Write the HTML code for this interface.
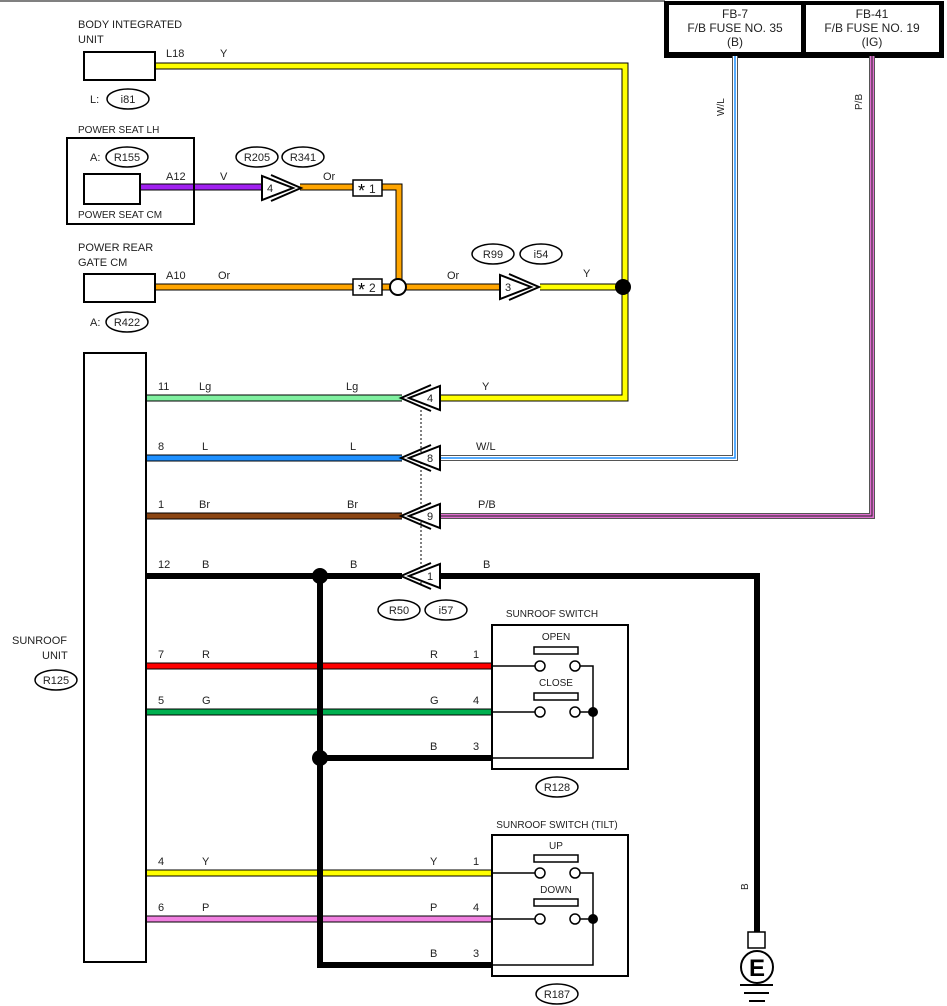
<!DOCTYPE html>
<html><head><meta charset="utf-8"><style>
html,body{margin:0;padding:0;background:#fff;}
svg{display:block;}
text{font-family:"Liberation Sans",Arial,sans-serif;font-size:11px;fill:#222;}
</style></head><body>
<svg width="947" height="1006" viewBox="0 0 947 1006" xmlns="http://www.w3.org/2000/svg">
<defs>
<g id="cR"><polygon points="0,-12 0,12 31,0" fill="#fff" stroke="#000" stroke-width="2"/><polyline points="9,-13 39,0 9,13" fill="none" stroke="#000" stroke-width="2"/></g>
<g id="cL"><polygon points="0,-12 0,12 -31,0" fill="#fff" stroke="#000" stroke-width="2"/><polyline points="-9,-13 -39,0 -9,13" fill="none" stroke="#000" stroke-width="2"/></g>
</defs>
<line x1="0" y1="1" x2="665" y2="1" stroke="#000" stroke-width="1"/>
<!-- fuse boxes -->
<rect x="664" y="1" width="280" height="57" fill="#000"/>
<rect x="669" y="5" width="132" height="47" fill="#fff"/>
<rect x="806" y="5" width="133" height="47" fill="#fff"/>
<g text-anchor="middle">
<text x="735" y="18" style="font-size:12px">FB-7</text><text x="735" y="32" style="font-size:12px">F/B FUSE NO. 35</text><text x="735" y="46" style="font-size:12px">(B)</text>
<text x="872" y="18" style="font-size:12px">FB-41</text><text x="872" y="32" style="font-size:12px">F/B FUSE NO. 19</text><text x="872" y="46" style="font-size:12px">(IG)</text>
</g>

<polyline points="440,458 735,458 735,56" fill="none" stroke="#555" stroke-width="6"/>
<polyline points="440,458 735,458 735,56" fill="none" stroke="#fff" stroke-width="4"/>
<polyline points="440,458 735,458 735,56" fill="none" stroke="#1e90ff" stroke-width="1.5"/>
<polyline points="440,516 872,516 872,56" fill="none" stroke="#555" stroke-width="6"/>
<polyline points="440,516 872,516 872,56" fill="none" stroke="#e070d0" stroke-width="4"/>
<polyline points="440,516 872,516 872,56" fill="none" stroke="#222" stroke-width="1"/>

<g fill="none" stroke-linejoin="miter">
<polyline points="155,66 625,66 625,398 440,398" stroke="#000" stroke-width="7"/>
<polyline points="155,66 625,66 625,398 440,398" stroke="#ffff00" stroke-width="5"/>
<polyline points="140,187 262,187" stroke="#000" stroke-width="7"/>
<polyline points="140,187 262,187" stroke="#a020f0" stroke-width="5"/>
<polyline points="300,187 399,187 399,287" stroke="#000" stroke-width="7"/>
<polyline points="300,187 399,187 399,287" stroke="#ffa500" stroke-width="5"/>
<polyline points="155,287 500,287" stroke="#000" stroke-width="7"/>
<polyline points="155,287 500,287" stroke="#ffa500" stroke-width="5"/>
<polyline points="540,287 625,287" stroke="#000" stroke-width="7"/>
<polyline points="540,287 625,287" stroke="#ffff00" stroke-width="5"/>
<line x1="146" y1="398" x2="402" y2="398" stroke="#000" stroke-width="7"/>
<line x1="146" y1="398" x2="402" y2="398" stroke="#80f0a0" stroke-width="5"/>
<line x1="146" y1="458" x2="402" y2="458" stroke="#000" stroke-width="7"/>
<line x1="146" y1="458" x2="402" y2="458" stroke="#1e90ff" stroke-width="5"/>
<line x1="146" y1="516" x2="402" y2="516" stroke="#000" stroke-width="7"/>
<line x1="146" y1="516" x2="402" y2="516" stroke="#8b4513" stroke-width="5"/>
<line x1="146" y1="666" x2="492" y2="666" stroke="#000" stroke-width="7"/>
<line x1="146" y1="666" x2="492" y2="666" stroke="#ff0000" stroke-width="5"/>
<line x1="146" y1="712" x2="492" y2="712" stroke="#000" stroke-width="7"/>
<line x1="146" y1="712" x2="492" y2="712" stroke="#00b050" stroke-width="5"/>
<line x1="146" y1="873" x2="492" y2="873" stroke="#000" stroke-width="7"/>
<line x1="146" y1="873" x2="492" y2="873" stroke="#ffff00" stroke-width="5"/>
<line x1="146" y1="919" x2="492" y2="919" stroke="#000" stroke-width="7"/>
<line x1="146" y1="919" x2="492" y2="919" stroke="#f080e0" stroke-width="5"/>
<line x1="146" y1="576" x2="402" y2="576" stroke="#000" stroke-width="6"/>
<polyline points="440,576 757,576 757,932" stroke="#000" stroke-width="6"/>
<polyline points="320,576 320,965 492,965" stroke="#000" stroke-width="6"/>
<line x1="320" y1="758" x2="492" y2="758" stroke="#000" stroke-width="6"/>
</g>
<circle cx="320" cy="576" r="8" fill="#000"/>
<circle cx="320" cy="758" r="8" fill="#000"/>
<circle cx="623" cy="287" r="8" fill="#000"/>
<circle cx="398" cy="287" r="8" fill="#fff" stroke="#000" stroke-width="2"/>

<line x1="421" y1="410" x2="421" y2="586" stroke="#000" stroke-width="1" stroke-dasharray="2,2"/>

<use href="#cR" x="262" y="188"/><text x="267" y="192">4</text>
<use href="#cR" x="500" y="287"/><text x="505" y="291">3</text>
<use href="#cL" x="440" y="398"/><text x="427" y="402">4</text>
<use href="#cL" x="440" y="458"/><text x="427" y="462">8</text>
<use href="#cL" x="440" y="516"/><text x="427" y="520">9</text>
<use href="#cL" x="440" y="576"/><text x="427" y="580">1</text>

<rect x="353" y="180" width="29" height="16" fill="#fff" stroke="#000" stroke-width="1.5"/><text x="358" y="197" style="font-size:18px;fill:#000">*</text><text x="369" y="193" style="font-size:12px">1</text>
<rect x="353" y="279" width="29" height="16" fill="#fff" stroke="#000" stroke-width="1.5"/><text x="358" y="296" style="font-size:18px;fill:#000">*</text><text x="369" y="292" style="font-size:12px">2</text>

<rect x="84" y="52" width="71" height="28" fill="#fff" stroke="#000" stroke-width="2"/>
<rect x="67" y="138" width="127" height="86" fill="none" stroke="#000" stroke-width="2"/>
<rect x="84" y="174" width="56" height="30" fill="#fff" stroke="#000" stroke-width="2"/>
<rect x="84" y="274" width="71" height="28" fill="#fff" stroke="#000" stroke-width="2"/>
<rect x="84" y="353" width="62" height="609" fill="#fff" stroke="#000" stroke-width="2"/>

<text x="78" y="28">BODY INTEGRATED</text><text x="78" y="43">UNIT</text>
<text x="166" y="57">L18</text><text x="220" y="57">Y</text>
<text x="90" y="103">L:</text>
<text x="78" y="133" style="font-size:10px">POWER SEAT LH</text>
<text x="90" y="161">A:</text>
<text x="78" y="218" style="font-size:10px">POWER SEAT CM</text>
<text x="166" y="180">A12</text><text x="220" y="180">V</text><text x="323" y="180">Or</text>
<text x="78" y="251">POWER REAR</text><text x="78" y="266">GATE CM</text>
<text x="166" y="279">A10</text><text x="218" y="279">Or</text>
<text x="447" y="279">Or</text><text x="583" y="277">Y</text>
<text x="90" y="326">A:</text>

<text x="158" y="390">11</text><text x="199" y="390">Lg</text><text x="346" y="390">Lg</text><text x="482" y="390">Y</text>
<text x="158" y="450">8</text><text x="202" y="450">L</text><text x="350" y="450">L</text><text x="476" y="450">W/L</text>
<text x="158" y="508">1</text><text x="199" y="508">Br</text><text x="347" y="508">Br</text><text x="478" y="508">P/B</text>
<text x="158" y="568">12</text><text x="202" y="568">B</text><text x="350" y="568">B</text><text x="483" y="568">B</text>
<text x="158" y="658">7</text><text x="202" y="658">R</text><text x="430" y="658">R</text><text x="473" y="658">1</text>
<text x="158" y="704">5</text><text x="202" y="704">G</text><text x="430" y="704">G</text><text x="473" y="704">4</text>
<text x="430" y="750">B</text><text x="473" y="750">3</text>
<text x="158" y="865">4</text><text x="202" y="865">Y</text><text x="430" y="865">Y</text><text x="473" y="865">1</text>
<text x="158" y="911">6</text><text x="202" y="911">P</text><text x="430" y="911">P</text><text x="473" y="911">4</text>
<text x="430" y="957">B</text><text x="473" y="957">3</text>

<text x="12" y="644">SUNROOF</text><text x="42" y="659">UNIT</text>

<text transform="translate(724,116) rotate(-90)" style="font-size:10px">W/L</text>
<text transform="translate(862,110) rotate(-90)" style="font-size:10px">P/B</text>
<text transform="translate(748,890) rotate(-90)" style="font-size:10px">B</text>

<g fill="#fff" stroke="#000" stroke-width="1.5">
<ellipse cx="128" cy="99" rx="21" ry="10"/>
<ellipse cx="127" cy="157" rx="21" ry="10"/>
<ellipse cx="257" cy="157" rx="21" ry="10"/>
<ellipse cx="303" cy="157" rx="21" ry="10"/>
<ellipse cx="127" cy="322" rx="21" ry="10"/>
<ellipse cx="493" cy="254" rx="21" ry="10"/>
<ellipse cx="541" cy="254" rx="21" ry="10"/>
<ellipse cx="399" cy="610" rx="21" ry="10"/>
<ellipse cx="446" cy="610" rx="21" ry="10"/>
<ellipse cx="56" cy="680" rx="21" ry="10"/>
<ellipse cx="557" cy="787" rx="21" ry="10"/>
<ellipse cx="557" cy="994" rx="21" ry="10"/>
</g>
<g text-anchor="middle">
<text x="128" y="103">i81</text><text x="127" y="161">R155</text><text x="257" y="161">R205</text><text x="303" y="161">R341</text>
<text x="127" y="326">R422</text><text x="493" y="258">R99</text><text x="541" y="258">i54</text>
<text x="399" y="614">R50</text><text x="446" y="614">i57</text><text x="56" y="684">R125</text>
<text x="557" y="791">R128</text><text x="557" y="998">R187</text>
</g>

<rect x="492" y="625" width="136" height="144" fill="none" stroke="#000" stroke-width="2"/>
<text x="552" y="617" text-anchor="middle" style="font-size:10px">SUNROOF SWITCH</text>
<text x="556" y="640" text-anchor="middle" style="font-size:10px">OPEN</text>
<rect x="534" y="647" width="44" height="7" fill="#fff" stroke="#000" stroke-width="1.5"/>
<text x="556" y="686" text-anchor="middle" style="font-size:10px">CLOSE</text>
<rect x="534" y="693" width="44" height="7" fill="#fff" stroke="#000" stroke-width="1.5"/>
<g fill="none" stroke="#000" stroke-width="1.5">
<line x1="492" y1="666" x2="535" y2="666"/><line x1="492" y1="712" x2="535" y2="712"/>
<polyline points="580,666 593,666 593,758 492,758"/><line x1="580" y1="712" x2="593" y2="712"/>
</g>
<g fill="#fff" stroke="#000" stroke-width="1.5">
<circle cx="540" cy="666" r="5"/><circle cx="575" cy="666" r="5"/><circle cx="540" cy="712" r="5"/><circle cx="575" cy="712" r="5"/>
</g>
<circle cx="593" cy="712" r="5" fill="#000"/>

<rect x="492" y="835" width="136" height="141" fill="none" stroke="#000" stroke-width="2"/>
<text x="557" y="828" text-anchor="middle" style="font-size:10px">SUNROOF SWITCH (TILT)</text>
<text x="556" y="849" text-anchor="middle" style="font-size:10px">UP</text>
<rect x="534" y="855" width="44" height="7" fill="#fff" stroke="#000" stroke-width="1.5"/>
<text x="556" y="893" text-anchor="middle" style="font-size:10px">DOWN</text>
<rect x="534" y="899" width="44" height="7" fill="#fff" stroke="#000" stroke-width="1.5"/>
<g fill="none" stroke="#000" stroke-width="1.5">
<line x1="492" y1="873" x2="535" y2="873"/><line x1="492" y1="919" x2="535" y2="919"/>
<polyline points="580,873 593,873 593,965 492,965"/><line x1="580" y1="919" x2="593" y2="919"/>
</g>
<g fill="#fff" stroke="#000" stroke-width="1.5">
<circle cx="540" cy="873" r="5"/><circle cx="575" cy="873" r="5"/><circle cx="540" cy="919" r="5"/><circle cx="575" cy="919" r="5"/>
</g>
<circle cx="593" cy="919" r="5" fill="#000"/>

<rect x="748" y="932" width="17" height="16" fill="#fff" stroke="#000" stroke-width="1.5"/>
<circle cx="757" cy="967" r="16" fill="#fff" stroke="#000" stroke-width="2"/>
<text x="757" y="976" text-anchor="middle" style="font-size:24px;font-weight:bold;fill:#000">E</text>
<line x1="740" y1="985" x2="773" y2="985" stroke="#000" stroke-width="2"/>
<line x1="744" y1="993" x2="769" y2="993" stroke="#000" stroke-width="2"/>
<line x1="749" y1="1001" x2="765" y2="1001" stroke="#000" stroke-width="2"/>
</svg>
</body></html>
